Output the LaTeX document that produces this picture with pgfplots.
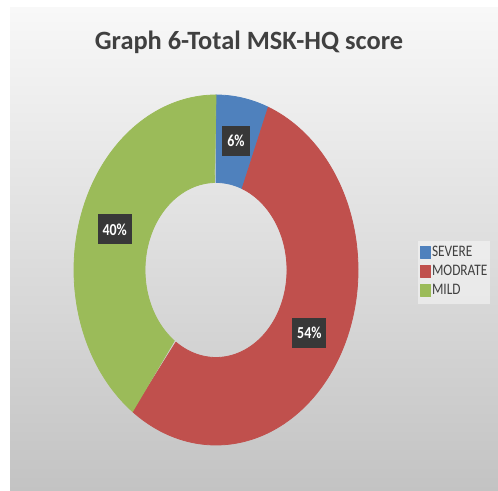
\documentclass[border=0pt]{standalone}
\usepackage{pgfplots}
\pgfplotsset{compat=1.18}
\usepackage{pgfplotstable}
\usepackage{graphicx}
\usepackage{fontspec}
\setmainfont{Carlito}

\definecolor{sev}{HTML}{4F81BD}
\definecolor{mod}{HTML}{C0504D}
\definecolor{mil}{HTML}{9BBB59}
\definecolor{txt}{HTML}{404040}
\definecolor{lbl}{HTML}{383838}
\definecolor{bgtop}{HTML}{F8F8F8}
\definecolor{bgbot}{HTML}{C3C3C3}

\pgfplotstableread{
name pct
SEVERE 6
MODRATE 54
MILD 40
}\data
\pgfplotstablecreatecol[create col/expr accum={\pgfmathaccuma+\thisrow{pct}}{0}]{cum}{\data}

\pgfplotstablegetelem{0}{cum}\of\data\edef\eA{\pgfplotsretval}
\pgfplotstablegetelem{0}{pct}\of\data\edef\pA{\pgfplotsretval}
\pgfplotstablegetelem{1}{cum}\of\data\edef\eB{\pgfplotsretval}
\pgfplotstablegetelem{1}{pct}\of\data\edef\pB{\pgfplotsretval}
\pgfplotstablegetelem{2}{cum}\of\data\edef\eC{\pgfplotsretval}
\pgfplotstablegetelem{2}{pct}\of\data\edef\pC{\pgfplotsretval}

% donut geometry (bp)
\def\cx{216}\def\cy{221}
\def\Rx{142}\def\Ry{175}
\def\rx{71}\def\ry{87.5}

\newcommand\slice[3]{%
\addplot[fill=#3, draw=#3, line width=0.8bp, line join=round, domain=0:2, samples=241, variable=\t]
 ({\cx + ifthenelse(\t<1,\Rx,\rx)*cos(90-3.6*ifthenelse(\t<1,(#1-#2)+#2*\t,#1-#2*(\t-1)))},
  {\cy + ifthenelse(\t<1,\Ry,\ry)*sin(90-3.6*ifthenelse(\t<1,(#1-#2)+#2*\t,#1-#2*(\t-1)))}) -- cycle;
}

\begin{document}
\begin{tikzpicture}[x=1bp,y=1bp]
\fill[white] (0,0) rectangle (498,491);
\fill[top color=bgtop, bottom color=bgbot] (10,0) rectangle (498,483);
\begin{axis}[
  at={(0,0)}, anchor=south west,
  scale only axis, width=498bp, height=491bp,
  xmin=0, xmax=498, ymin=0, ymax=491,
  hide axis, clip=false,
  /pgf/number format/assume math mode=true,
  title={Graph 6-Total MSK-HQ score},
  title style={at={(axis cs:249,443)}, anchor=center, text=txt,
    font=\bfseries\fontsize{26.5}{30}\selectfont, inner sep=0pt},
  legend image code/.code={\fill[#1, fill opacity=1] (0bp,-5bp) rectangle (10bp,7bp);},
  legend cell align=left,
  legend style={at={(axis cs:418,250)}, anchor=north west, draw=none,
    fill=white, fill opacity=0.45, text opacity=1, text=txt,
    font=\fontsize{13.4}{15}\selectfont, row sep=0pt,
    inner xsep=2bp, inner ysep=3bp,
    nodes={inner sep=1bp, text height=11.5bp, text depth=5.5bp}},
]
\slice{\eA}{\pA}{sev}
\addlegendentry{\scalebox{1}[1.2]{SEVERE}}
\slice{\eB}{\pB}{mod}
\addlegendentry{\scalebox{1}[1.2]{MODRATE}}
\slice{\eC}{\pC}{mil}
\addlegendentry{\scalebox{1}[1.2]{MILD}}

\addplot[draw=none, mark=none, forget plot,
  point meta=\thisrow{pct},
  nodes near coords={\scalebox{1}[1.2]{\pgfmathprintnumber{\pgfplotspointmeta}\%}},
  every node near coord/.append style={anchor=center, fill=lbl, text=white,
    font=\bfseries\fontsize{14}{16}\selectfont, inner xsep=5bp, inner ysep=0pt,
    minimum height=30bp}]
  table[x expr={\cx+0.75*\Rx*cos(90-3.6*(\thisrow{cum}-\thisrow{pct}/2))},
        y expr={\cy+0.75*\Ry*sin(90-3.6*(\thisrow{cum}-\thisrow{pct}/2))}] {\data};
\end{axis}
\end{tikzpicture}
\end{document}
